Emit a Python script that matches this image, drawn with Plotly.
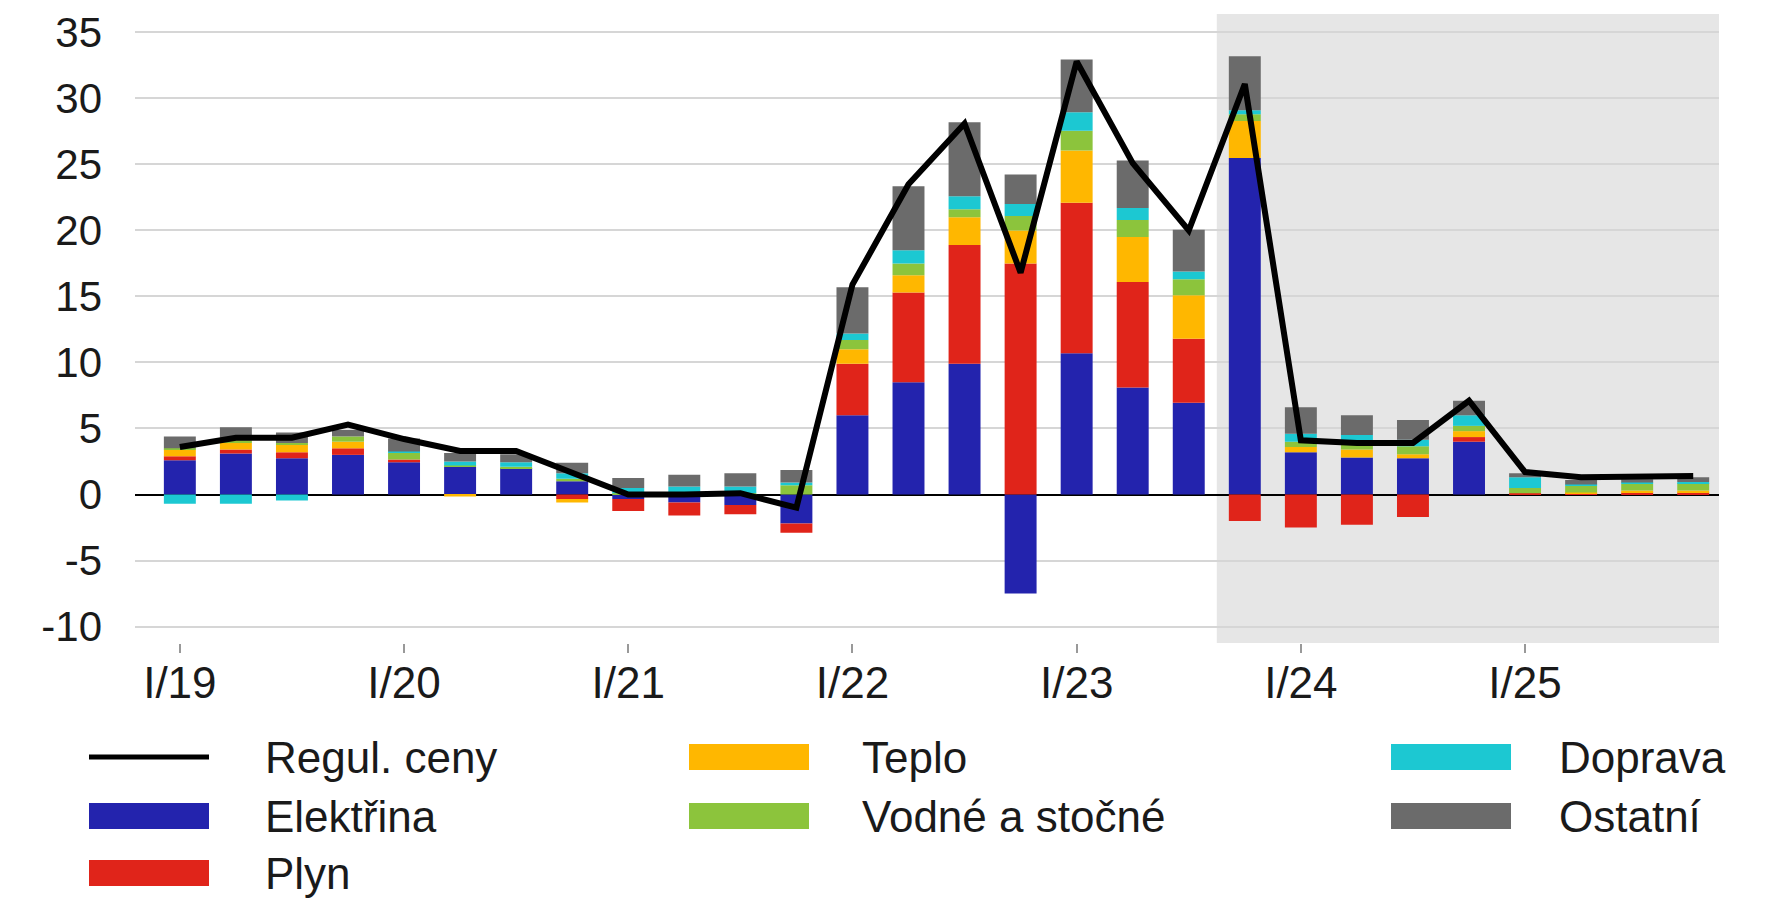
import plotly.graph_objects as go

# ---------------- data ----------------
quarters = [f"{q}/{y}" for y in ["19", "20", "21", "22", "23", "24", "25"] for q in ["I", "II", "III", "IV"]]
tick_labels = ["I/19", "I/20", "I/21", "I/22", "I/23", "I/24", "I/25"]
y_tick_vals = [-10, -5, 0, 5, 10, 15, 20, 25, 30, 35]
y_tick_text = ["-10", "-5", "0", "5", "10", "15", "20", "25", "30", "35"]

elektrina = [2.6, 3.1, 2.75, 3.0, 2.45, 2.1, 2.0, 1.0,
             -0.35, -0.6, -0.8, -2.2, 6.0, 8.5, 9.9, -7.5,
             10.7, 8.1, 6.95, 25.5, 3.2, 2.8, 2.75, 4.0,
             0.0, 0.0, 0.0, 0.0]
plyn = [0.3, 0.3, 0.45, 0.5, 0.2, 0.0, 0.0, -0.35,
        -0.9, -1.0, -0.7, -0.7, 3.9, 6.8, 9.0, 17.5,
        11.4, 8.0, 4.85, -2.0, -2.5, -2.3, -1.7, 0.35,
        0.1, 0.05, 0.15, 0.15]
teplo = [0.5, 0.5, 0.6, 0.5, 0.0, -0.15, 0.0, -0.25,
         0.0, 0.0, 0.0, 0.0, 1.1, 1.3, 2.1, 2.5,
         3.95, 3.4, 3.3, 2.8, 0.4, 0.6, 0.3, 0.45,
         0.0, 0.1, 0.15, 0.15]
vodne = [0.1, 0.2, 0.1, 0.4, 0.5, 0.1, 0.1, 0.2,
         0.1, 0.1, 0.1, 0.7, 0.7, 0.9, 0.6, 1.1,
         1.5, 1.3, 1.2, 0.5, 0.4, 0.4, 0.6, 0.4,
         0.4, 0.5, 0.5, 0.55]
doprava = [-0.7, -0.7, -0.45, 0.0, 0.1, 0.3, 0.35, 0.4,
           0.4, 0.5, 0.5, 0.2, 0.5, 1.0, 1.0, 0.9,
           1.4, 0.9, 0.6, 0.3, 0.6, 0.7, 0.5, 0.8,
           0.8, 0.1, 0.1, 0.1]
ostatni = [0.9, 1.0, 0.8, 0.5, 1.0, 0.65, 0.6, 0.8,
           0.75, 0.9, 1.0, 0.95, 3.5, 4.85, 5.6, 2.25,
           4.0, 3.6, 3.15, 4.1, 2.0, 1.5, 1.5, 1.1,
           0.3, 0.35, 0.25, 0.35]
regul_ceny = [3.6, 4.3, 4.3, 5.3, 4.2, 3.3, 3.3, 1.6,
              0.0, 0.0, 0.1, -1.0, 15.9, 23.5, 28.1, 16.8,
              32.8, 25.1, 20.0, 31.1, 4.1, 3.9, 3.9, 7.1,
              1.7, 1.3, 1.4, 1.4]

series_names = ["Elektřina", "Plyn", "Teplo", "Vodné a stočné", "Doprava", "Ostatní"]
series_values = [elektrina, plyn, teplo, vodne, doprava, ostatni]
series_colors = ["#2323ad", "#e0241a", "#ffb700", "#8cc43c", "#1cc8d2", "#6b6b6b"]
line_name = "Regul. ceny"

# ---------------- figure ----------------
W, H = 1791, 898
ML, MR, MT, MB = 135, 72, 14, 255
PW, PH = W - ML - MR, H - MT - MB

fig = go.Figure()
for name, vals, col in zip(series_names, series_values, series_colors):
    fig.add_trace(go.Bar(x=quarters, y=vals, name=name, marker=dict(color=col, line=dict(width=0)),
                         width=0.57, showlegend=False))
fig.add_trace(go.Scatter(x=quarters, y=regul_ceny, name=line_name, mode="lines",
                         line=dict(color="black", width=6), showlegend=False))

font_family = "Liberation Sans, Arial, sans-serif"

fig.update_layout(
    width=W, height=H,
    margin=dict(l=ML, r=MR, t=MT, b=MB, autoexpand=False),
    barmode="relative",
    paper_bgcolor="white",
    plot_bgcolor="rgba(0,0,0,0)",
    font=dict(family=font_family, color="#1a1a1a"),
    xaxis=dict(
        type="category",
        categoryorder="array", categoryarray=quarters,
        range=[-0.8, 27.46],
        tickmode="array", tickvals=tick_labels, ticktext=tick_labels,
        ticks="outside", ticklen=9, tickwidth=1.5, tickcolor="#999999",
        ticklabelstandoff=-8,
        tickfont=dict(size=44, color="#1a1a1a"),
        showgrid=False, showline=False, zeroline=False,
    ),
    yaxis=dict(
        range=[-11.25, 36.4],
        tickmode="array", tickvals=y_tick_vals, ticktext=y_tick_text,
        ticks="", ticklabelstandoff=32,
        tickfont=dict(size=42, color="#1a1a1a"),
        showgrid=True, gridcolor="#d6d6d6", gridwidth=2,
        zeroline=True, zerolinecolor="black", zerolinewidth=1.5,
        showline=False,
    ),
)

# shaded forecast region
fig.add_shape(type="rect", xref="x", yref="paper", x0=18.5, x1=27.46, y0=0, y1=1,
              fillcolor="#e6e6e6", line=dict(width=0), layer="below")

# ---------------- custom legend (3 columns) ----------------
def px_x(px):
    return (px - ML) / PW

def px_y(py):
    return (H - MB - py) / PH

col_sw = [89, 689, 1391]
col_tx = [263, 860, 1557]
row_y = [757, 816, 873]
sw_w, sw_h = 120, 26

legend_items = [(line_name, "black", "line", 0, 0)]
layout_pos = [(0, 1), (0, 2), (1, 0), (1, 1), (2, 0), (2, 1)]
for (name, col), (c, r) in zip(zip(series_names, series_colors), layout_pos):
    legend_items.append((name, col, "box", c, r))

for name, col, kind, c, r in legend_items:
    x0 = col_sw[c]
    yc = row_y[r]
    if kind == "line":
        fig.add_shape(type="line", xref="paper", yref="paper",
                      x0=px_x(x0), x1=px_x(x0 + sw_w), y0=px_y(yc), y1=px_y(yc),
                      line=dict(color=col, width=5))
    else:
        fig.add_shape(type="rect", xref="paper", yref="paper",
                      x0=px_x(x0), x1=px_x(x0 + sw_w), y0=px_y(yc - sw_h / 2), y1=px_y(yc + sw_h / 2),
                      fillcolor=col, line=dict(width=0))
    fig.add_annotation(text=name, xref="paper", yref="paper", x=px_x(col_tx[c]), y=px_y(yc),
                       xanchor="left", yanchor="middle", showarrow=False,
                       font=dict(size=44, color="#1a1a1a", family=font_family))

fig.write_html("out.html", config={"displayModeBar": False},
               post_script="document.body.style.margin='0px';")
